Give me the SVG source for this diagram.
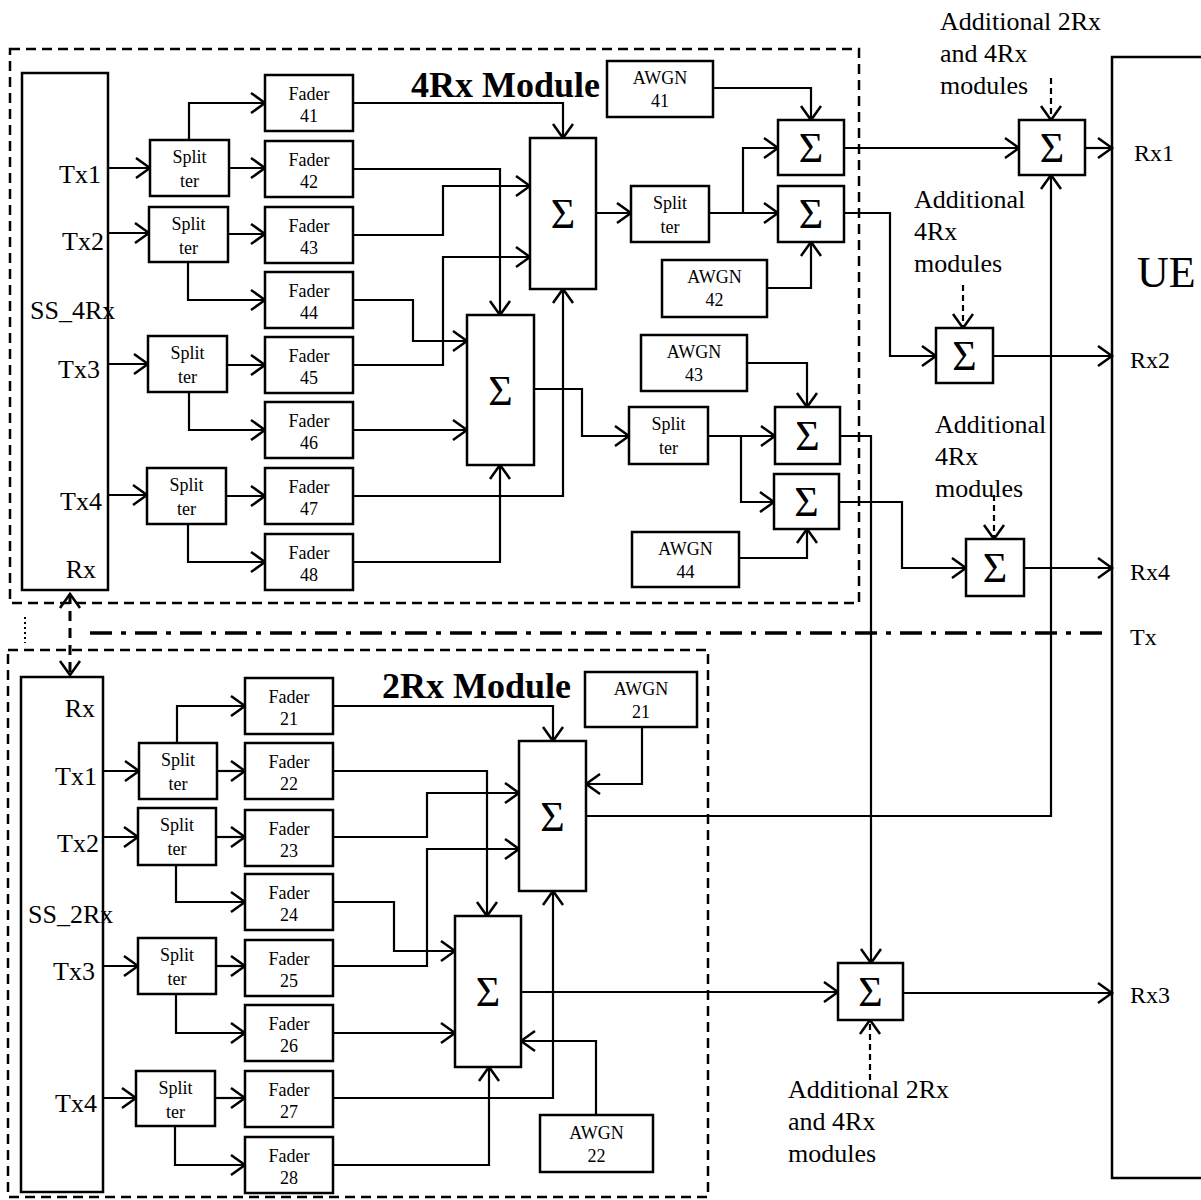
<svg xmlns="http://www.w3.org/2000/svg" width="1201" height="1200" viewBox="0 0 1201 1200">
<defs>
<marker id="a" markerUnits="userSpaceOnUse" markerWidth="18" markerHeight="22" refX="15" refY="11" orient="auto-start-reverse" overflow="visible"><path d="M1,1 L15,11 L1,21" fill="none" stroke="#000" stroke-width="2.5"/></marker>
<style>
.b{fill:#fff;stroke:#000;stroke-width:2.5}
.c{fill:none;stroke:#000;stroke-width:2.2;marker-end:url(#a)}
.l{fill:none;stroke:#000;stroke-width:2.2}
.d{fill:none;stroke:#000;stroke-width:2.5;stroke-dasharray:10,6}
.da{fill:none;stroke:#000;stroke-width:2.2;stroke-dasharray:6,4;marker-end:url(#a)}
text{font-family:"Liberation Serif","Times New Roman",serif;fill:#000}
.s{font-size:18px;text-anchor:middle}
.sg{font-size:42px;text-anchor:middle}
.p{font-size:26px}
.r{font-size:24px}
.t{font-size:36px;font-weight:bold}
.ad{font-size:26px}
</style>
</defs>
<rect x="0" y="0" width="1201" height="1200" fill="#fff"/>

<!-- module boundaries -->
<g id="module4rx"><rect class="d" x="10" y="49" width="849" height="554"/><text class="t" x="411" y="97">4Rx Module</text></g>
<g id="module2rx"><rect class="d" x="8" y="650" width="700" height="547"/><text class="t" x="382" y="698">2Rx Module</text></g>

<!-- connectors -->
<g id="connectors">
<path class="c" d="M108,168H150"/>
<path class="c" d="M108,233H149"/>
<path class="c" d="M108,364H148"/>
<path class="c" d="M108,495H147"/>
<path class="c" d="M229,168H265"/>
<path class="c" d="M189,140V103H265"/>
<path class="c" d="M228,234H265"/>
<path class="c" d="M188,262V300H265"/>
<path class="c" d="M227,365H265"/>
<path class="c" d="M189,392V430H265"/>
<path class="c" d="M226,496H265"/>
<path class="c" d="M188,524V562H265"/>
<path class="c" d="M353,103H563V138"/>
<path class="c" d="M353,169H500V315"/>
<path class="c" d="M353,235H443V186H530"/>
<path class="c" d="M353,300H413V341H467"/>
<path class="c" d="M353,365H443V257H530"/>
<path class="c" d="M353,430H467"/>
<path class="c" d="M353,496H563V289"/>
<path class="c" d="M353,562H500V465"/>
<path class="c" d="M596,213H631"/>
<path class="c" d="M709,213H778"/>
<path class="c" d="M743,213V148H778"/>
<path class="c" d="M713,88H811V120"/>
<path class="c" d="M767,288H811V242"/>
<path class="c" d="M534,389H582V436H629"/>
<path class="c" d="M708,436H775"/>
<path class="c" d="M741,436V502H774"/>
<path class="c" d="M747,363H807V407"/>
<path class="c" d="M739,558H807V529"/>
<path class="c" d="M844,148H1019"/>
<path class="c" d="M1085,148H1112"/>
<path class="c" d="M844,213H890V356H936"/>
<path class="c" d="M993,356H1112"/>
<path class="c" d="M840,436H871V963"/>
<path class="c" d="M839,502H902V568H966"/>
<path class="c" d="M1024,568H1112"/>
<path class="c" d="M903,993H1112"/>
<path class="da" d="M1051,78V120"/>
<path class="da" d="M963,285V328"/>
<path class="da" d="M994,495V539"/>
<path class="da" d="M870,1080V1020"/>
<path class="c" d="M103,771H139"/>
<path class="c" d="M103,837H138"/>
<path class="c" d="M103,966H138"/>
<path class="c" d="M103,1098H136"/>
<path class="c" d="M217,771H245"/>
<path class="c" d="M177,743V706H245"/>
<path class="c" d="M216,837H245"/>
<path class="c" d="M176,865V902H245"/>
<path class="c" d="M216,966H245"/>
<path class="c" d="M176,994V1033H245"/>
<path class="c" d="M215,1098H245"/>
<path class="c" d="M175,1126V1165H245"/>
<path class="c" d="M333,706H553V741"/>
<path class="c" d="M333,771H487V916"/>
<path class="c" d="M333,837H427V793H519"/>
<path class="c" d="M333,902H394V951H455"/>
<path class="c" d="M333,966H427V849H519"/>
<path class="c" d="M333,1033H455"/>
<path class="c" d="M333,1098H553V891"/>
<path class="c" d="M333,1165H489V1067"/>
<path class="c" d="M642,727V784H586"/>
<path class="c" d="M596,1115V1041H521"/>
<path class="c" d="M586,816H1051V175"/>
<path class="c" d="M521,992H838"/>
<path d="M70,594V675" fill="none" stroke="#000" stroke-width="3" stroke-dasharray="10,7" marker-start="url(#a)" marker-end="url(#a)"/>
<path d="M25,617V643" fill="none" stroke="#000" stroke-width="2" stroke-dasharray="2,3"/>
<path d="M90,633H1112" fill="none" stroke="#000" stroke-width="3.5" stroke-dasharray="22,9,5,9"/>
</g>

<!-- 4Rx nodes -->
<g id="ss4rx"><rect class="b" x="22" y="73" width="86" height="517"/>
<text class="p" x="101" y="183" text-anchor="end">Tx1</text>
<text class="p" x="104" y="250" text-anchor="end">Tx2</text>
<text class="p" x="30" y="319">SS_4Rx</text>
<text class="p" x="100" y="378" text-anchor="end">Tx3</text>
<text class="p" x="102" y="510" text-anchor="end">Tx4</text>
<text class="p" x="96" y="578" text-anchor="end">Rx</text></g>

<g id="split41"><rect class="b" x="150" y="140" width="79" height="56"/><text class="s" x="189.5" y="163">Split</text><text class="s" x="189.5" y="187">ter</text></g>
<g id="split42"><rect class="b" x="149" y="207" width="79" height="55"/><text class="s" x="188.5" y="230">Split</text><text class="s" x="188.5" y="254">ter</text></g>
<g id="split43"><rect class="b" x="148" y="336" width="79" height="56"/><text class="s" x="187.5" y="359">Split</text><text class="s" x="187.5" y="383">ter</text></g>
<g id="split44"><rect class="b" x="147" y="468" width="79" height="56"/><text class="s" x="186.5" y="491">Split</text><text class="s" x="186.5" y="515">ter</text></g>

<g id="fader41"><rect class="b" x="265" y="75" width="88" height="56"/><text class="s" x="309" y="100">Fader</text><text class="s" x="309" y="122">41</text></g>
<g id="fader42"><rect class="b" x="265" y="141" width="88" height="56"/><text class="s" x="309" y="166">Fader</text><text class="s" x="309" y="188">42</text></g>
<g id="fader43"><rect class="b" x="265" y="207" width="88" height="56"/><text class="s" x="309" y="232">Fader</text><text class="s" x="309" y="254">43</text></g>
<g id="fader44"><rect class="b" x="265" y="272" width="88" height="56"/><text class="s" x="309" y="297">Fader</text><text class="s" x="309" y="319">44</text></g>
<g id="fader45"><rect class="b" x="265" y="337" width="88" height="56"/><text class="s" x="309" y="362">Fader</text><text class="s" x="309" y="384">45</text></g>
<g id="fader46"><rect class="b" x="265" y="402" width="88" height="56"/><text class="s" x="309" y="427">Fader</text><text class="s" x="309" y="449">46</text></g>
<g id="fader47"><rect class="b" x="265" y="468" width="88" height="56"/><text class="s" x="309" y="493">Fader</text><text class="s" x="309" y="515">47</text></g>
<g id="fader48"><rect class="b" x="265" y="534" width="88" height="56"/><text class="s" x="309" y="559">Fader</text><text class="s" x="309" y="581">48</text></g>

<g id="sum41"><rect class="b" x="530" y="138" width="66" height="151"/><text class="sg" x="563" y="228">Σ</text></g>
<g id="sum42"><rect class="b" x="467" y="315" width="67" height="150"/><text class="sg" x="500.5" y="405">Σ</text></g>
<g id="split45"><rect class="b" x="631" y="186" width="78" height="56"/><text class="s" x="670" y="209">Split</text><text class="s" x="670" y="233">ter</text></g>
<g id="split46"><rect class="b" x="629" y="407" width="79" height="57"/><text class="s" x="668.5" y="430">Split</text><text class="s" x="668.5" y="454">ter</text></g>
<g id="awgn41"><rect class="b" x="607" y="61" width="106" height="56"/><text class="s" x="660" y="84">AWGN</text><text class="s" x="660" y="107">41</text></g>
<g id="awgn42"><rect class="b" x="662" y="260" width="105" height="57"/><text class="s" x="714.5" y="283">AWGN</text><text class="s" x="714.5" y="306">42</text></g>
<g id="awgn43"><rect class="b" x="641" y="335" width="106" height="56"/><text class="s" x="694" y="358">AWGN</text><text class="s" x="694" y="381">43</text></g>
<g id="awgn44"><rect class="b" x="632" y="532" width="107" height="55"/><text class="s" x="685.5" y="555">AWGN</text><text class="s" x="685.5" y="578">44</text></g>
<g id="sum43"><rect class="b" x="778" y="120" width="66" height="55"/><text class="sg" x="811" y="162">Σ</text></g>
<g id="sum44"><rect class="b" x="778" y="186" width="66" height="56"/><text class="sg" x="811" y="228">Σ</text></g>
<g id="sum45"><rect class="b" x="775" y="407" width="65" height="57"/><text class="sg" x="807.5" y="450">Σ</text></g>
<g id="sum46"><rect class="b" x="774" y="474" width="65" height="55"/><text class="sg" x="806.5" y="516">Σ</text></g>

<g id="sumRx1"><rect class="b" x="1019" y="120" width="66" height="55"/><text class="sg" x="1052" y="162">Σ</text></g>
<g id="sumRx2"><rect class="b" x="936" y="328" width="57" height="55"/><text class="sg" x="964.5" y="370">Σ</text></g>
<g id="sumRx4"><rect class="b" x="966" y="539" width="58" height="57"/><text class="sg" x="995" y="582">Σ</text></g>
<g id="sumRx3"><rect class="b" x="838" y="963" width="65" height="57"/><text class="sg" x="870.5" y="1006">Σ</text></g>

<g id="add1"><text class="ad" x="940" y="30">Additional 2Rx</text><text class="ad" x="940" y="62">and 4Rx</text><text class="ad" x="940" y="94">modules</text></g>
<g id="add2"><text class="ad" x="914" y="208">Additional</text><text class="ad" x="914" y="240">4Rx</text><text class="ad" x="914" y="272">modules</text></g>
<g id="add3"><text class="ad" x="935" y="433">Additional</text><text class="ad" x="935" y="465">4Rx</text><text class="ad" x="935" y="497">modules</text></g>
<g id="add4"><text class="ad" x="788" y="1098">Additional 2Rx</text><text class="ad" x="788" y="1130">and 4Rx</text><text class="ad" x="788" y="1162">modules</text></g>

<g id="ue"><rect x="1112" y="57" width="120" height="1121" fill="none" stroke="#000" stroke-width="2.5"/>
<text x="1137" y="287" font-size="44">UE</text>
<text class="r" x="1134" y="161">Rx1</text>
<text class="r" x="1130" y="368">Rx2</text>
<text class="r" x="1130" y="580">Rx4</text>
<text class="r" x="1130" y="645">Tx</text>
<text class="r" x="1130" y="1003">Rx3</text></g>

<g id="ss2rx"><rect class="b" x="21" y="677" width="82" height="515"/>
<text class="p" x="95" y="717" text-anchor="end">Rx</text>
<text class="p" x="97" y="785" text-anchor="end">Tx1</text>
<text class="p" x="99" y="852" text-anchor="end">Tx2</text>
<text class="p" x="28" y="923">SS_2Rx</text>
<text class="p" x="95" y="980" text-anchor="end">Tx3</text>
<text class="p" x="97" y="1112" text-anchor="end">Tx4</text></g>

<g id="split21"><rect class="b" x="139" y="743" width="78" height="56"/><text class="s" x="178" y="766">Split</text><text class="s" x="178" y="790">ter</text></g>
<g id="split22"><rect class="b" x="138" y="808" width="78" height="57"/><text class="s" x="177" y="831">Split</text><text class="s" x="177" y="855">ter</text></g>
<g id="split23"><rect class="b" x="138" y="938" width="78" height="56"/><text class="s" x="177" y="961">Split</text><text class="s" x="177" y="985">ter</text></g>
<g id="split24"><rect class="b" x="136" y="1071" width="79" height="55"/><text class="s" x="175.5" y="1094">Split</text><text class="s" x="175.5" y="1118">ter</text></g>

<g id="fader21"><rect class="b" x="245" y="678" width="88" height="56"/><text class="s" x="289" y="703">Fader</text><text class="s" x="289" y="725">21</text></g>
<g id="fader22"><rect class="b" x="245" y="743" width="88" height="56"/><text class="s" x="289" y="768">Fader</text><text class="s" x="289" y="790">22</text></g>
<g id="fader23"><rect class="b" x="245" y="810" width="88" height="56"/><text class="s" x="289" y="835">Fader</text><text class="s" x="289" y="857">23</text></g>
<g id="fader24"><rect class="b" x="245" y="874" width="88" height="56"/><text class="s" x="289" y="899">Fader</text><text class="s" x="289" y="921">24</text></g>
<g id="fader25"><rect class="b" x="245" y="940" width="88" height="56"/><text class="s" x="289" y="965">Fader</text><text class="s" x="289" y="987">25</text></g>
<g id="fader26"><rect class="b" x="245" y="1005" width="88" height="56"/><text class="s" x="289" y="1030">Fader</text><text class="s" x="289" y="1052">26</text></g>
<g id="fader27"><rect class="b" x="245" y="1071" width="88" height="56"/><text class="s" x="289" y="1096">Fader</text><text class="s" x="289" y="1118">27</text></g>
<g id="fader28"><rect class="b" x="245" y="1137" width="88" height="56"/><text class="s" x="289" y="1162">Fader</text><text class="s" x="289" y="1184">28</text></g>

<g id="sum21"><rect class="b" x="519" y="741" width="67" height="150"/><text class="sg" x="552.5" y="831">Σ</text></g>
<g id="sum22"><rect class="b" x="455" y="916" width="66" height="151"/><text class="sg" x="488" y="1006">Σ</text></g>
<g id="awgn21"><rect class="b" x="585" y="672" width="112" height="55"/><text class="s" x="641" y="695">AWGN</text><text class="s" x="641" y="718">21</text></g>
<g id="awgn22"><rect class="b" x="540" y="1115" width="113" height="57"/><text class="s" x="596.5" y="1139">AWGN</text><text class="s" x="596.5" y="1162">22</text></g>
</svg>
